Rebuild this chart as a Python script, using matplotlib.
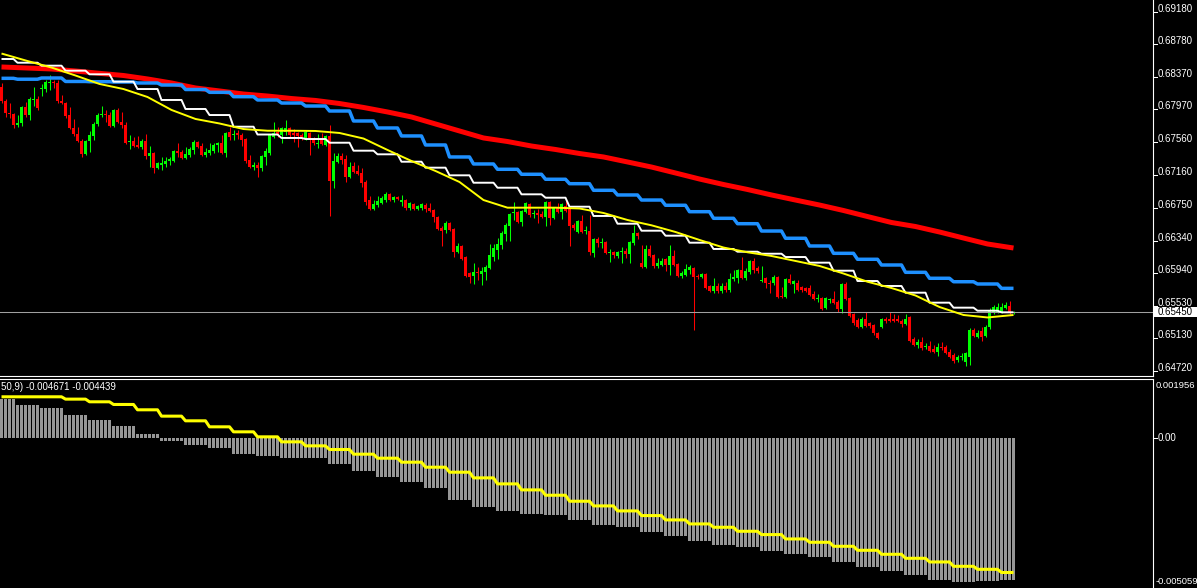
import numpy as np
import matplotlib
matplotlib.use("Agg")
import matplotlib.pyplot as plt
from matplotlib.transforms import blended_transform_factory
from matplotlib.patches import Rectangle

# ---------------- data (prices) ----------------
open_ = [
 0.68248,0.68074,0.67925,0.67913,0.67776,0.67801,0.68000,0.67900,0.68087,0.68099,
 0.68223,0.68223,0.68298,0.68310,0.68298,0.68074,0.68049,0.67900,0.67739,0.67664,
 0.67577,0.67416,0.67577,0.67639,0.67788,0.67900,0.67913,0.67900,0.67764,0.67962,
 0.67813,0.67776,0.67565,0.67577,0.67528,0.67503,0.67577,0.67391,0.67428,0.67242,
 0.67279,0.67291,0.67329,0.67329,0.67453,0.67441,0.67366,0.67403,0.67465,0.67565,
 0.67515,0.67403,0.67428,0.67453,0.67528,0.67552,0.67428,0.67689,0.67652,0.67677,
 0.67652,0.67602,0.67341,0.67254,0.67279,0.67242,0.67378,0.67428,0.67627,0.67689,
 0.67652,0.67689,0.67739,0.67677,0.67677,0.67652,0.67614,0.67677,0.67602,0.67540,
 0.67602,0.67528,0.67639,0.67080,0.67316,0.67391,0.67354,0.67130,0.67267,0.67204,
 0.67180,0.67068,0.66844,0.66732,0.66782,0.66807,0.66844,0.66919,0.66844,0.66881,
 0.66819,0.66844,0.66745,0.66794,0.66732,0.66745,0.66782,0.66745,0.66720,0.66633,
 0.66496,0.66471,0.66558,0.66484,0.66198,0.66273,0.66136,0.65937,0.65900,0.65950,
 0.65925,0.65950,0.65999,0.66136,0.66223,0.66285,0.66422,0.66521,0.66683,0.66695,
 0.66571,0.66695,0.66794,0.66670,0.66683,0.66670,0.66633,0.66819,0.66620,0.66745,
 0.66695,0.66770,0.66732,0.66534,0.66447,0.66583,0.66459,0.66459,0.66186,0.66360,
 0.66310,0.66322,0.66186,0.66198,0.66148,0.66198,0.66210,0.66173,0.66310,0.66434,
 0.66061,0.66012,0.66235,0.66161,0.66024,0.66037,0.66111,0.66037,0.66148,0.66049,
 0.65900,0.65912,0.65974,0.65999,0.65900,0.65887,0.65925,0.65776,0.65713,0.65776,
 0.65713,0.65776,0.65726,0.65863,0.65875,0.65974,0.65875,0.65950,0.66086,0.65999,
 0.65838,0.65875,0.65813,0.65813,0.65887,0.65651,0.65639,0.65863,0.65800,0.65813,
 0.65763,0.65751,0.65751,0.65676,0.65614,0.65627,0.65502,0.65602,0.65614,0.65577,
 0.65490,0.65800,0.65627,0.65428,0.65353,0.65266,0.65366,0.65316,0.65291,0.65192,
 0.65266,0.65366,0.65366,0.65366,0.65366,0.65341,0.65303,0.65390,0.65117,0.65043,
 0.65080,0.65018,0.65030,0.64993,0.64956,0.65018,0.65018,0.64956,0.64918,0.64856,
 0.64893,0.64831,0.64893,0.65229,0.65142,0.65216,0.65154,0.65266,0.65453,0.65453,
 0.65453,0.65502,0.65527,0.65440]
high = [
 0.68298,0.68099,0.68049,0.67925,0.67900,0.68012,0.68062,0.68124,0.68248,0.68136,
 0.68285,0.68335,0.68397,0.68335,0.68335,0.68149,0.68062,0.68000,0.67851,0.67751,
 0.67602,0.67590,0.67701,0.67813,0.67925,0.68012,0.67962,0.67938,0.67975,0.67987,
 0.67938,0.67813,0.67652,0.67627,0.67639,0.67602,0.67664,0.67515,0.67441,0.67316,
 0.67378,0.67378,0.67378,0.67465,0.67552,0.67465,0.67503,0.67503,0.67590,0.67577,
 0.67552,0.67490,0.67552,0.67552,0.67565,0.67652,0.67689,0.67751,0.67714,0.67714,
 0.67677,0.67614,0.67403,0.67316,0.67316,0.67403,0.67490,0.67664,0.67813,0.67751,
 0.67751,0.67838,0.67751,0.67726,0.67689,0.67677,0.67714,0.67689,0.67627,0.67664,
 0.67677,0.67652,0.67776,0.67428,0.67428,0.67428,0.67403,0.67316,0.67316,0.67279,
 0.67242,0.67093,0.66894,0.66844,0.66894,0.66894,0.66944,0.66931,0.66894,0.66894,
 0.66906,0.66857,0.66819,0.66807,0.66782,0.66807,0.66807,0.66807,0.66732,0.66645,
 0.66521,0.66583,0.66571,0.66496,0.66310,0.66285,0.66148,0.65950,0.66061,0.66012,
 0.66012,0.66037,0.66297,0.66297,0.66372,0.66459,0.66558,0.66683,0.66819,0.66707,
 0.66720,0.66819,0.66807,0.66720,0.66732,0.66707,0.66832,0.66832,0.66757,0.66807,
 0.66807,0.66832,0.66745,0.66558,0.66596,0.66658,0.66521,0.66658,0.66372,0.66384,
 0.66372,0.66335,0.66235,0.66210,0.66210,0.66260,0.66248,0.66335,0.66534,0.66447,
 0.66285,0.66285,0.66285,0.66173,0.66124,0.66124,0.66124,0.66285,0.66223,0.66061,
 0.65962,0.66049,0.66037,0.66012,0.65925,0.65937,0.65937,0.65788,0.65875,0.65813,
 0.65813,0.65825,0.65937,0.65974,0.65987,0.66136,0.65999,0.66099,0.66124,0.66024,
 0.66024,0.65887,0.65850,0.65912,0.65900,0.65763,0.65875,0.65925,0.65850,0.65850,
 0.65776,0.65763,0.65788,0.65713,0.65676,0.65639,0.65639,0.65627,0.65713,0.65602,
 0.65813,0.65825,0.65639,0.65440,0.65378,0.65390,0.65453,0.65328,0.65303,0.65204,
 0.65378,0.65390,0.65453,0.65428,0.65415,0.65366,0.65428,0.65403,0.65142,0.65117,
 0.65142,0.65067,0.65092,0.65043,0.65067,0.65080,0.65043,0.64993,0.64943,0.64918,
 0.64943,0.64956,0.65254,0.65254,0.65229,0.65266,0.65291,0.65502,0.65540,0.65564,
 0.65564,0.65577,0.65589,0.65465]
low = [
 0.68049,0.67875,0.67863,0.67739,0.67751,0.67764,0.67875,0.67838,0.68012,0.67962,
 0.68136,0.68186,0.68211,0.68236,0.68049,0.68037,0.67863,0.67726,0.67639,0.67565,
 0.67378,0.67403,0.67441,0.67590,0.67764,0.67875,0.67813,0.67751,0.67751,0.67801,
 0.67739,0.67540,0.67478,0.67503,0.67490,0.67478,0.67354,0.67254,0.67180,0.67229,
 0.67217,0.67254,0.67279,0.67316,0.67378,0.67354,0.67354,0.67378,0.67416,0.67490,
 0.67391,0.67378,0.67403,0.67428,0.67441,0.67416,0.67378,0.67590,0.67590,0.67602,
 0.67515,0.67304,0.67242,0.67217,0.67130,0.67204,0.67279,0.67403,0.67614,0.67627,
 0.67552,0.67652,0.67627,0.67565,0.67503,0.67590,0.67590,0.67403,0.67528,0.67490,
 0.67528,0.67515,0.66645,0.66993,0.67304,0.67291,0.67068,0.67118,0.67180,0.67155,
 0.67006,0.66782,0.66720,0.66720,0.66757,0.66794,0.66819,0.66832,0.66819,0.66844,
 0.66770,0.66720,0.66720,0.66720,0.66720,0.66720,0.66695,0.66695,0.66571,0.66471,
 0.66273,0.66434,0.66459,0.66136,0.66186,0.66099,0.65887,0.65813,0.65800,0.65850,
 0.65788,0.65850,0.65987,0.66086,0.66111,0.66235,0.66335,0.66335,0.66596,0.66558,
 0.66521,0.66683,0.66633,0.66620,0.66558,0.66620,0.66521,0.66534,0.66608,0.66683,
 0.66608,0.66695,0.66273,0.66471,0.66434,0.66434,0.66422,0.66161,0.66136,0.66260,
 0.66248,0.66173,0.66074,0.66124,0.66124,0.66061,0.66124,0.66061,0.66285,0.66360,
 0.65999,0.65999,0.66136,0.65999,0.65999,0.66024,0.65962,0.65912,0.66024,0.65887,
 0.65875,0.65900,0.65925,0.65229,0.65863,0.65875,0.65738,0.65701,0.65689,0.65689,
 0.65689,0.65701,0.65701,0.65838,0.65813,0.65863,0.65850,0.65925,0.65937,0.65937,
 0.65825,0.65751,0.65689,0.65788,0.65627,0.65627,0.65627,0.65800,0.65689,0.65713,
 0.65701,0.65701,0.65651,0.65602,0.65577,0.65477,0.65490,0.65564,0.65552,0.65453,
 0.65440,0.65602,0.65390,0.65291,0.65254,0.65254,0.65266,0.65254,0.65167,0.65117,
 0.65254,0.65316,0.65328,0.65328,0.65328,0.65266,0.65291,0.65080,0.65030,0.65005,
 0.64980,0.64993,0.64956,0.64943,0.64906,0.64980,0.64931,0.64881,0.64819,0.64831,
 0.64856,0.64782,0.64794,0.65142,0.65130,0.65092,0.65142,0.65241,0.65428,0.65440,
 0.65440,0.65490,0.65428,0.65428]
close = [
 0.68074,0.67925,0.67913,0.67776,0.67801,0.68000,0.67900,0.68099,0.68099,0.67987,
 0.68236,0.68310,0.68310,0.68298,0.68074,0.68049,0.67888,0.67739,0.67664,0.67577,
 0.67416,0.67577,0.67652,0.67788,0.67900,0.67913,0.67900,0.67764,0.67962,0.67813,
 0.67776,0.67552,0.67577,0.67515,0.67503,0.67577,0.67391,0.67428,0.67242,0.67304,
 0.67304,0.67329,0.67354,0.67453,0.67428,0.67366,0.67416,0.67478,0.67565,0.67503,
 0.67403,0.67441,0.67465,0.67528,0.67552,0.67428,0.67677,0.67627,0.67664,0.67652,
 0.67590,0.67329,0.67254,0.67279,0.67242,0.67391,0.67453,0.67652,0.67677,0.67652,
 0.67739,0.67739,0.67652,0.67652,0.67639,0.67614,0.67689,0.67614,0.67552,0.67552,
 0.67540,0.67639,0.67080,0.67329,0.67391,0.67341,0.67130,0.67254,0.67192,0.67167,
 0.67055,0.66819,0.66732,0.66794,0.66832,0.66869,0.66919,0.66844,0.66881,0.66857,
 0.66844,0.66745,0.66807,0.66732,0.66770,0.66794,0.66732,0.66707,0.66633,0.66484,
 0.66459,0.66558,0.66471,0.66198,0.66273,0.66111,0.65900,0.65887,0.65950,0.65937,
 0.65962,0.66012,0.66161,0.66248,0.66297,0.66434,0.66534,0.66670,0.66695,0.66571,
 0.66707,0.66807,0.66658,0.66683,0.66658,0.66633,0.66819,0.66620,0.66745,0.66695,
 0.66794,0.66707,0.66521,0.66496,0.66583,0.66447,0.66471,0.66198,0.66360,0.66310,
 0.66322,0.66186,0.66198,0.66161,0.66198,0.66210,0.66173,0.66322,0.66434,0.66397,
 0.66012,0.66235,0.66148,0.66024,0.66061,0.66086,0.66037,0.66148,0.66037,0.65900,
 0.65937,0.65987,0.66012,0.65887,0.65887,0.65925,0.65751,0.65713,0.65776,0.65713,
 0.65776,0.65726,0.65863,0.65887,0.65974,0.65875,0.65962,0.66086,0.65974,0.65962,
 0.65850,0.65813,0.65800,0.65887,0.65639,0.65639,0.65863,0.65813,0.65838,0.65726,
 0.65726,0.65713,0.65664,0.65614,0.65627,0.65490,0.65627,0.65614,0.65564,0.65490,
 0.65800,0.65614,0.65403,0.65316,0.65266,0.65366,0.65279,0.65279,0.65192,0.65130,
 0.65366,0.65341,0.65341,0.65341,0.65341,0.65303,0.65366,0.65092,0.65043,0.65080,
 0.65005,0.65030,0.64968,0.64956,0.65018,0.65005,0.64943,0.64893,0.64844,0.64893,
 0.64906,0.64943,0.65229,0.65154,0.65192,0.65142,0.65266,0.65477,0.65515,0.65515,
 0.65515,0.65540,0.65440,0.65453]

# higher-timeframe blocks (bars per block)
block_sizes = [4] + [6] * 41 + [4]

ma_red = [0.68497,0.68484,0.68472,0.68447,0.68418,0.68391,0.68348,0.68298,0.68236,0.68199,
          0.68161,0.68136,0.68105,0.68081,0.68043,0.67994,0.67938,0.67876,0.67789,0.67702,
          0.67615,0.67571,0.67515,0.67472,0.67422,0.67379,0.67317,0.67254,0.67180,0.67105,
          0.67037,0.66975,0.66907,0.66844,0.66782,0.66714,0.66639,0.66565,0.66515,0.66447,
          0.66372,0.66298,0.66248]
ma_blue = [0.68356,0.68345,0.68360,0.68317,0.68314,0.68310,0.68298,0.68273,0.68217,0.68182,
           0.68128,0.68087,0.68049,0.68012,0.67950,0.67826,0.67739,0.67640,0.67528,0.67379,
           0.67292,0.67226,0.67164,0.67102,0.67047,0.66965,0.66907,0.66844,0.66779,0.66699,
           0.66617,0.66550,0.66459,0.66369,0.66273,0.66182,0.66108,0.66037,0.65946,0.65872,
           0.65829,0.65801,0.65747]
ma_white = [0.68596,0.68550,0.68513,0.68451,0.68406,0.68314,0.68223,0.68087,0.67975,0.67900,
            0.67755,0.67658,0.67615,0.67602,0.67556,0.67457,0.67412,0.67320,0.67246,0.67151,
            0.67059,0.66997,0.66915,0.66873,0.66761,0.66646,0.66550,0.66463,0.66401,0.66314,
            0.66236,0.66202,0.66177,0.66136,0.66066,0.65966,0.65838,0.65776,0.65693,0.65569,
            0.65507,0.65469,0.65449]
ma_yellow = [0.68664,0.68571,0.68490,0.68391,0.68286,0.68223,0.68124,0.67963,0.67851,0.67795,
             0.67726,0.67705,0.67705,0.67702,0.67677,0.67608,0.67466,0.67329,0.67205,0.67068,
             0.66844,0.66749,0.66749,0.66749,0.66739,0.66683,0.66596,0.66530,0.66447,0.66348,
             0.66254,0.66195,0.66149,0.66087,0.66025,0.65931,0.65829,0.65751,0.65658,0.65515,
             0.65416,0.65385,0.65416]

macd_hist = [0.001264,0.00109,0.00099,0.00076,0.00059,0.00040,0.00013,-0.00009,-0.00025,-0.00035,
             -0.00052,-0.00059,-0.00066,-0.00068,-0.00086,-0.00109,-0.00128,-0.00145,-0.00167,-0.00205,
             -0.00227,-0.00240,-0.00251,-0.00253,-0.00271,-0.00286,-0.00294,-0.00310,-0.00323,-0.00340,
             -0.00352,-0.00360,-0.00373,-0.00383,-0.00393,-0.00408,-0.00425,-0.00438,-0.00451,-0.00468,
             -0.00474,-0.00471,-0.004671]
macd_signal = [0.001353,0.001353,0.001353,0.001276,0.001188,0.0011,0.000924,0.000715,0.000561,0.000363,
               0.000198,0.000033,-0.000132,-0.000264,-0.000385,-0.000539,-0.000671,-0.000803,-0.000968,-0.001133,
               -0.00132,-0.001518,-0.001716,-0.001892,-0.00209,-0.002244,-0.002409,-0.002563,-0.002706,-0.002838,
               -0.002948,-0.00308,-0.00319,-0.003333,-0.003443,-0.003575,-0.003707,-0.003839,-0.003971,-0.004092,
               -0.004235,-0.004334,-0.004439]

price_ticks = [0.69180,0.68780,0.68370,0.67970,0.67560,0.67160,0.66750,0.66340,0.65940,0.65530,0.65130,0.64720]
price_tick_labels = ["0.69180","0.68780","0.68370","0.67970","0.67560","0.67160","0.66750","0.66340","0.65940","0.65530","0.65130","0.64720"]
bid_price = 0.65450
bid_label = "0.65450"
sub_max, sub_zero, sub_min = 0.001956, 0.0, -0.005059
sub_labels = ["0.001956", "0.00", "-0.005059"]
sub_title = "50,9) -0.004671 -0.004439"

# ---------------- figure ----------------
W, H = 1197, 588
fig = plt.figure(figsize=(W / 100, H / 100), dpi=100, facecolor="black")
FONT = "Liberation Sans"
FS = 7.0

ax_right_px = 1153
main_bottom_px = 375.5
sub_top_px, sub_bottom_px = 378.5, 591.3

ax = fig.add_axes([0, (H - main_bottom_px) / H, ax_right_px / W, main_bottom_px / H])
ax2 = fig.add_axes([0, (H - sub_bottom_px) / H, ax_right_px / W, (sub_bottom_px - sub_top_px) / H])

O = np.array(open_); Hh = np.array(high); L = np.array(low); C = np.array(close)
Hh = np.maximum(Hh, np.maximum(O, C)); L = np.minimum(L, np.minimum(O, C))
n = len(C)
idx = np.arange(n)
sizes = np.array(block_sizes)
starts = np.concatenate([[0], np.cumsum(sizes)[:-1]])
centers = starts + (sizes - 1) / 2.0
centers[0] = 0
centers[-1] = n - 1

x0 = -0.375
x1 = x0 + ax_right_px / 4.0
p_top = 0.69329
p_per_px = 0.00012423
ax.set_xlim(x0, x1)
ax.set_ylim(p_top - main_bottom_px * p_per_px, p_top)

for a in (ax, ax2):
    a.set_facecolor("black")
    a.set_xticks([]); a.set_yticks([])
    for s in ("left", "top", "bottom", "right"):
        a.spines[s].set_visible(False)
    a.spines["right"].set_visible(True)
    a.spines["right"].set_color("white")
    a.spines["right"].set_linewidth(0.8)
ax.spines["bottom"].set_visible(True)
ax.spines["bottom"].set_color("white")
ax.spines["bottom"].set_linewidth(0.8)
ax2.spines["top"].set_visible(True)
ax2.spines["top"].set_color("white")
ax2.spines["top"].set_linewidth(0.8)

# candles
bull = C >= O
cols = np.where(bull, "#00ff00", "#ff0000")
ax.vlines(idx, L, Hh, colors=cols, linewidth=0.75, zorder=2)
body_h = np.maximum(np.abs(C - O), 0.00009)
ax.bar(idx, body_h, bottom=np.minimum(O, C), width=0.75, color=cols, linewidth=0, zorder=2)

# bid line
ax.axhline(bid_price, color="#a0a0a0", linewidth=0.75, zorder=2.5)

# moving averages
ax.plot(centers, ma_red, color="#ff0000", linewidth=3.6, zorder=3, solid_capstyle="butt")
ax.plot(idx, np.repeat(ma_blue, sizes), color="#1e90ff", linewidth=2.5, zorder=4, solid_capstyle="butt")
ax.plot(idx, np.repeat(ma_white, sizes), color="#ffffff", linewidth=1.4, zorder=5, solid_capstyle="butt")
ax.plot(centers, ma_yellow, color="#ffff00", linewidth=1.4, zorder=6, solid_capstyle="butt")

# price scale
tr = blended_transform_factory(ax.transAxes, ax.transData)
tick_len = 4 / ax_right_px
for v, lab in zip(price_ticks, price_tick_labels):
    ax.plot([1.0, 1.0 + tick_len], [v, v], transform=tr, color="white", linewidth=0.75, clip_on=False)
    ax.text(1.0 + 5 / ax_right_px, v, lab, transform=tr, color="white", fontsize=FS,
            family=FONT, va="baseline", ha="left", clip_on=False)

# bid label box
bid_y = (p_top - bid_price) / p_per_px
fig.patches.append(Rectangle(((ax_right_px + 1) / W, (H - bid_y - 5) / H), (W - ax_right_px - 1) / W, 10 / H,
                             transform=fig.transFigure, facecolor="white", edgecolor="none", zorder=1))
fig.text((ax_right_px + 5) / W, (H - bid_y) / H, bid_label, color="black", fontsize=FS, family=FONT,
         va="center", ha="left", zorder=3)

# ---------------- MACD subwindow ----------------
ax2.set_xlim(x0, x1)
ax2.set_ylim(sub_min, sub_max)
ax2.bar(idx, np.repeat(macd_hist, sizes), width=0.75, color="#969696", linewidth=0, zorder=2)
ax2.plot(idx, np.repeat(macd_signal, sizes), color="#ffff00", linewidth=2.2, zorder=3, solid_capstyle="butt")

tr2 = blended_transform_factory(ax2.transAxes, ax2.transData)
ax2.plot([1.0, 1.0 + tick_len], [sub_zero, sub_zero], transform=tr2, color="white", linewidth=0.75, clip_on=False)
fig.text((ax_right_px + 3) / W, (H - 381) / H, sub_labels[0], color="white", fontsize=6.8, family=FONT,
         va="top", ha="left")
ax2.text(1.0 + 5 / ax_right_px, sub_zero, sub_labels[1], transform=tr2, color="white", fontsize=FS,
         family=FONT, va="center", ha="left", clip_on=False)
fig.text((ax_right_px + 3) / W, (H - 577) / H, sub_labels[2], color="white", fontsize=6.8, family=FONT,
         va="top", ha="left")
fig.text(1 / W, (H - 390) / H, sub_title, color="white", fontsize=FS, family=FONT, va="baseline", ha="left")

fig.savefig("out.png", dpi=100, facecolor="black")
